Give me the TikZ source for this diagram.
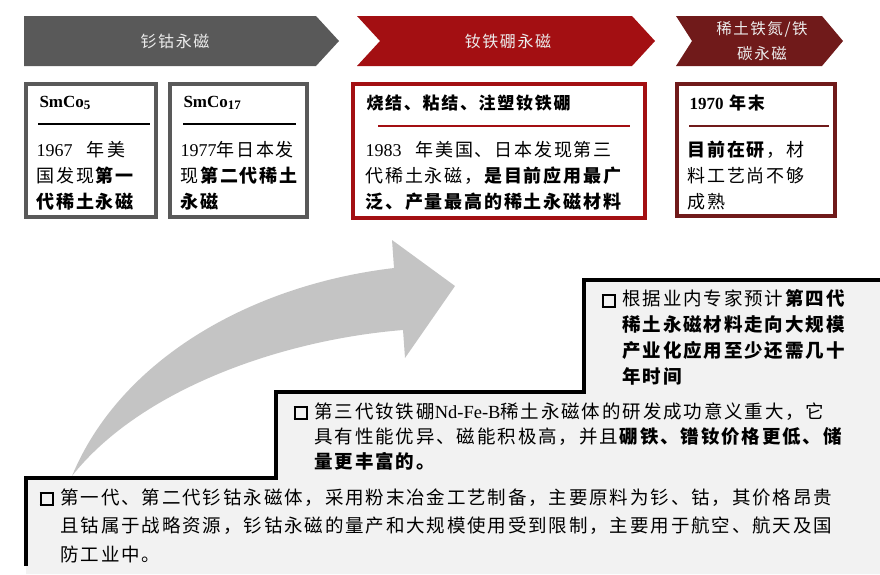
\documentclass[tikz,border=0pt]{standalone}
\usepackage{fontspec}
\setmainfont[LetterSpace=10]{Noto Sans CJK SC}
\newfontfamily\lat{Liberation Serif}
\definecolor{cgrey}{HTML}{595959}
\definecolor{cred}{HTML}{A30F12}
\definecolor{cdark}{HTML}{701A1A}
\definecolor{arrowg}{HTML}{C4C4C4}
\definecolor{stepfill}{HTML}{F2F2F2}
\newcommand{\bul}{{\setlength\fboxsep{0pt}\setlength\fboxrule{2pt}\raisebox{0pt}{\fbox{\rule{0pt}{10pt}\hspace{10pt}}}}\hspace{7pt}}
\tikzset{
  chev/.style={fill=#1, draw=none},
  chevtext/.style={text=white!85!gray, font=\fontsize{16}{24}\selectfont, align=center},
  card/.style={line width=4pt, draw=#1},
  head/.style={anchor=west, font=\fontsize{17}{20}\selectfont\bfseries},
  body/.style={anchor=north west, align=left, font=\fontsize{18}{26}\selectfont},
  stepline/.style={line width=3.5pt, black},
  bodytxt/.style={anchor=north west, align=left, font=\fontsize{18.5}{#1}\selectfont}
}
\begin{document}
\begin{tikzpicture}[x=1pt,y=-1pt]
\useasboundingbox (0,0) rectangle (880,574);
% chevrons
\fill[chev=cgrey] (24,16) -- (316,16) -- (339,41) -- (316,66) -- (24,66) -- cycle;
\fill[chev=cred] (357,16) -- (632,16) -- (655,41) -- (632,66) -- (357,66) -- (380,41) -- cycle;
\fill[chev=cdark] (676,16) -- (822,16) -- (843,41) -- (822,66) -- (676,66) -- (692,41) -- cycle;
\node[chevtext] (c1) at (175,41) {钐钴永磁};
\node[chevtext] (c2) at (508,41) {钕铁硼永磁};
\node[chevtext, font=\fontsize{15.5}{25}\selectfont] (c3) at (762,41) {稀土铁氮/铁\\碳永磁};
% cards
\draw[card=cgrey] (26,84) rectangle (156,217);
\draw[card=cgrey] (170,84) rectangle (307,217);
\draw[card=cred] (353,84) rectangle (645,218);
\draw[card=cdark] (677,84) rectangle (835,216);
\node[head] (h1) at (36,103) {\lat SmCo\textsubscript{\fontsize{13}{13}\selectfont 5}};
\node[head] (h2) at (180,103) {\lat SmCo\textsubscript{\fontsize{13}{13}\selectfont 17}};
\node[head] (h3) at (363,103) {烧结、粘结、注塑钕铁硼};
\node[head] (h4) at (686,103) {{\lat 1970} 年末};
\draw[line width=1.3pt] (38,124) -- (150,124);
\draw[line width=1.3pt] (183,124) -- (296,124);
\draw[line width=1.3pt, cred] (378,126) -- (630,126);
\draw[line width=1.3pt, cdark] (689,126) -- (829,126);
\node[body] (b1) at (33,138) {{\lat 1967}\hspace{14pt}年\,美\\国发现\textbf{第一}\\\textbf{代稀土永磁}};
\node[body] (b2) at (177,138) {{\lat 1977}年日本发\\现\textbf{第二代稀土}\\\textbf{永磁}};
\node[body] (b3) at (362,138) {{\lat 1983}\hspace{14pt}年美国、日本发现第三\\代稀土永磁，\textbf{是目前应用最广}\\\textbf{泛、产量最高的稀土永磁材料}};
\node[body] (b4) at (684,138) {\textbf{目前在研}，材\\料工艺尚不够\\成熟};
% steps
\fill[stepfill] (26,574) -- (26,478) -- (276,478) -- (276,392) -- (584,392) -- (584,280) -- (880,280) -- (880,574) -- cycle;
\draw[stepline] (26,566) -- (26,478) -- (276,478) -- (276,392) -- (584,392) -- (584,280) -- (880,280);
% curved arrow
\fill[arrowg] (72,476) .. controls (120,360) and (250,285) .. (394,268) -- (392,240) -- (455,286) -- (405,358) -- (403,330) .. controls (280,340) and (140,390) .. (72,476) -- cycle;
% texts
\node[bodytxt=26] (t3) at (598,286) {\bul 根据业内专家预计\textbf{第四代}\\\hspace{21pt}\textbf{稀土永磁材料走向大规模}\\\hspace{21pt}\textbf{产业化应用至少还需几十}\\\hspace{21pt}\textbf{年时间}};
\node[bodytxt=25] (t2) at (290,399) {\bul 第三代钕铁硼{\lat Nd-Fe-B}稀土永磁体的研发成功意义重大，它\\\hspace{21pt}具有性能优异、磁能积极高，并且\textbf{硼铁、镨钕价格更低、储}\\\hspace{21pt}\textbf{量更丰富的。}};
\node[bodytxt=28.5] (t1) at (36,485) {\bul 第一代、第二代钐钴永磁体，采用粉末冶金工艺制备，主要原料为钐、钴，其价格昂贵\\\hspace{21pt}且钴属于战略资源，钐钴永磁的量产和大规模使用受到限制，主要用于航空、航天及国\\\hspace{21pt}防工业中。};
\end{tikzpicture}
\end{document}
